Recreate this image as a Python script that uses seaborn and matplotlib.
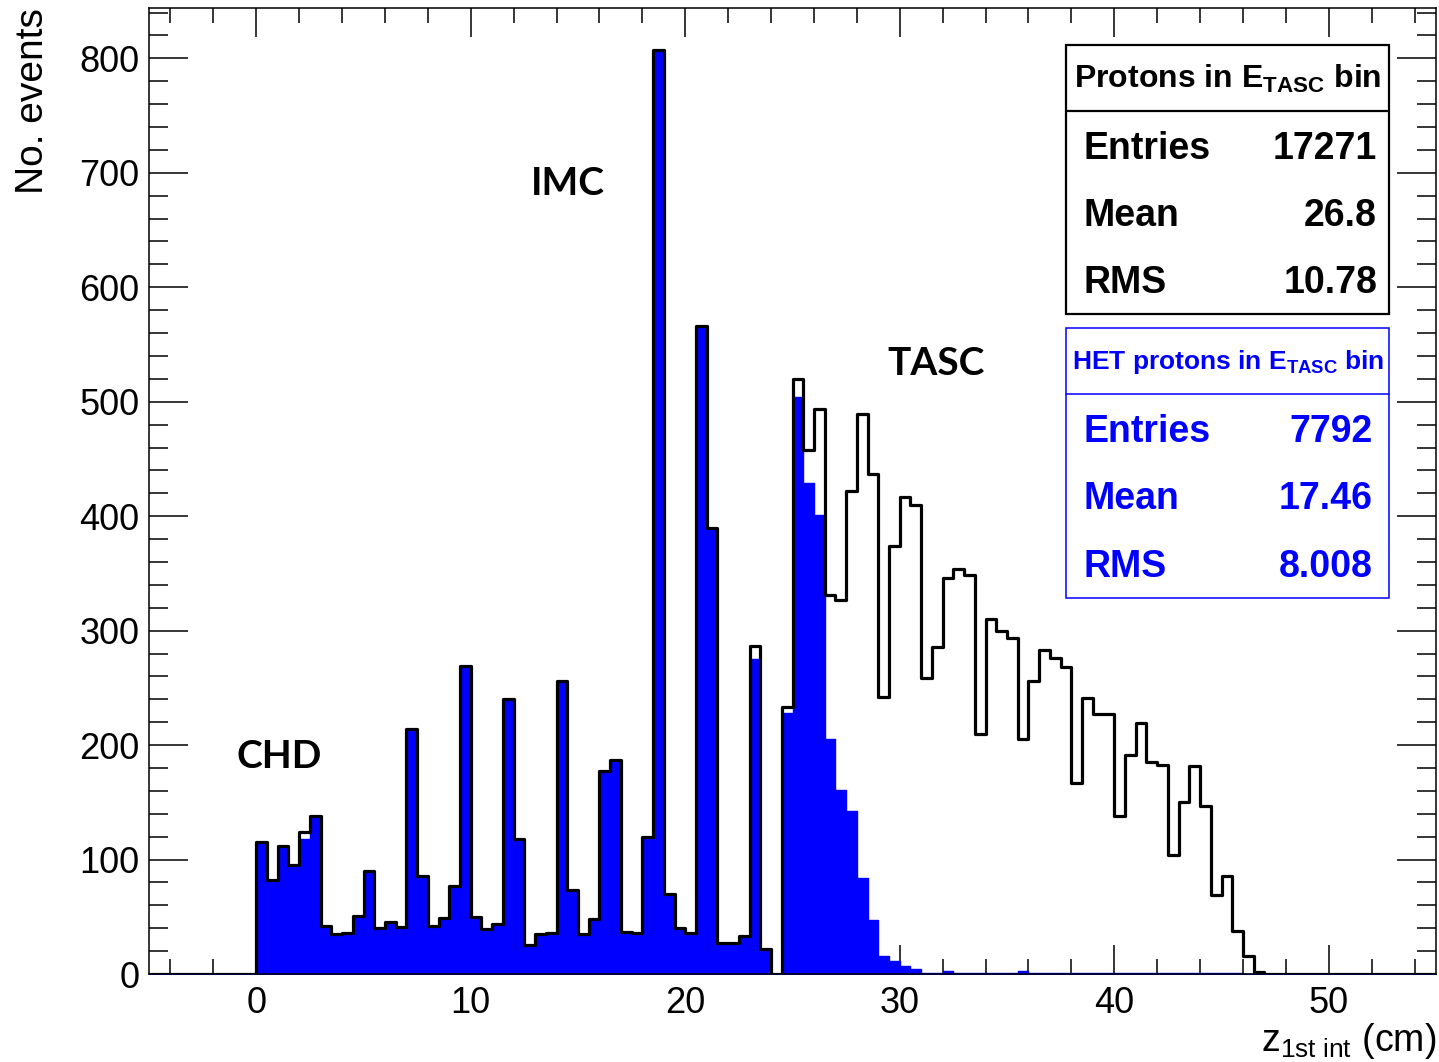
import numpy as np
import pandas as pd
import matplotlib
matplotlib.use("Agg")
import matplotlib.pyplot as plt
from matplotlib.patches import Rectangle
from matplotlib.lines import Line2D
from matplotlib.ticker import MultipleLocator
import seaborn as sns

# ---------------- data ----------------
bin_width = 0.5
x_range = (-5.0, 55.0)
first_bin_low = 0.0

# all protons in E_TASC bin (black outline), bins starting at 0 cm, 0.5 cm wide
all_protons = [115, 82, 112, 95, 124, 138, 42, 35, 36, 51,
               90, 40, 45, 41, 214, 86, 42, 49, 77, 269,
               50, 39, 44, 240, 118, 25, 35, 36, 256, 73,
               35, 48, 177, 187, 37, 36, 120, 807, 70, 40,
               36, 566, 390, 27, 27, 33, 287, 22, 0, 233,
               520, 458, 494, 331, 327, 422, 489, 437, 242, 374,
               417, 410, 259, 286, 346, 354, 349, 210, 310, 300,
               294, 205, 256, 283, 276, 268, 167, 241, 227, 227,
               138, 191, 219, 185, 183, 104, 150, 182, 147, 69,
               86, 38, 16, 2]

# HET protons in E_TASC bin (blue fill)
het_protons = [115, 82, 112, 95, 118, 138, 42, 35, 36, 51,
               90, 40, 45, 41, 214, 86, 42, 49, 77, 269,
               50, 39, 44, 240, 118, 25, 35, 36, 256, 73,
               35, 48, 177, 187, 37, 36, 120, 807, 70, 40,
               36, 566, 390, 27, 27, 33, 275, 22, 0, 228,
               504, 429, 401, 205, 161, 142, 84, 47, 16, 11,
               7, 4, 1, 1, 3, 1, 1, 1, 1, 1,
               1, 3, 1, 1, 1, 1, 1, 1, 1, 1,
               1, 1, 1, 1, 1, 1, 1, 1, 1, 1,
               1, 1, 0, 0]

stats_all = {"title": "Protons in E", "sub": "TASC", "Entries": "17271", "Mean": "26.8", "RMS": "10.78"}
stats_het = {"title": "HET protons in E", "sub": "TASC", "Entries": "7792", "Mean": "17.46", "RMS": "8.008"}

region_labels = ["CHD", "IMC", "TASC"]
region_label_x = [1.07, 14.55, 31.67]
region_label_y = [190, 691, 533]

# ---------------- figure ----------------
W, H = 1439, 1062
sns.set_theme(style="ticks")
plt.rcParams["font.family"] = ["Liberation Sans", "DejaVu Sans"]
plt.rcParams["mathtext.fontset"] = "custom"
plt.rcParams["mathtext.rm"] = "Liberation Sans"
plt.rcParams["mathtext.bf"] = "Liberation Sans:bold"
plt.rcParams["mathtext.it"] = "Liberation Sans:italic"
plt.rcParams["text.color"] = "black"
plt.rcParams["axes.labelcolor"] = "black"
plt.rcParams["xtick.color"] = "black"
plt.rcParams["ytick.color"] = "black"

fig = plt.figure(figsize=(W / 100, H / 100), dpi=100)
fig.patch.set_facecolor("white")


def fx(px):
    return px / W


def fy(py):
    return 1 - py / H


ax = fig.add_axes([fx(149), fy(974), (1436 - 149) / W, (974 - 8) / H])
ax.set_facecolor("white")

n_bins = len(all_protons)
centers = first_bin_low + bin_width * (np.arange(n_bins) + 0.5)
edges = np.arange(x_range[0], x_range[1] + bin_width / 2, bin_width)

# expand binned counts into per-event z values so seaborn does the binning
z_all = pd.DataFrame({"z": np.repeat(centers, all_protons)})
z_het = pd.DataFrame({"z": np.repeat(centers, het_protons)})

sns.histplot(data=z_het, x="z", bins=edges, element="step",
             fill=True, color="#0000ff", alpha=1.0, linewidth=1.0,
             edgecolor="#0000ff", ax=ax)
sns.histplot(data=z_all, x="z", bins=edges, element="step",
             fill=False, color="black", linewidth=2.3, ax=ax)

ax.set_xlim(*x_range)
ax.set_ylim(0, 844)

ax.xaxis.set_major_locator(MultipleLocator(10))
ax.xaxis.set_minor_locator(MultipleLocator(2))
ax.yaxis.set_major_locator(MultipleLocator(100))
ax.yaxis.set_minor_locator(MultipleLocator(20))
ax.tick_params(axis="both", which="both", direction="in", top=True, right=True,
               width=1.1, color="black", labelsize=26, labelcolor="black")
ax.tick_params(axis="x", which="major", length=21, pad=8.5)
ax.tick_params(axis="x", which="minor", length=10.5)
ax.tick_params(axis="y", which="major", length=28, pad=7)
ax.tick_params(axis="y", which="minor", length=14)
for s in ax.spines.values():
    s.set_linewidth(1.1)
    s.set_color("black")

ax.set_xlabel(r"$\mathrm{z}_{\mathrm{1st\ int}}$ (cm)", fontsize=27, loc="right", color="black")
ax.xaxis.set_label_coords(1.0, -0.049)
ax.set_ylabel("No. events", fontsize=28, loc="top", color="black")
ax.yaxis.set_label_coords(-0.076, 1.0)

for lab, lx, ly in zip(region_labels, region_label_x, region_label_y):
    ax.text(lx, ly, lab, fontsize=28, fontweight="bold", family=["Lato", "DejaVu Sans"],
            ha="center", va="center", color="black")


# ---------------- stat boxes ----------------
def stat_box(st, top, bottom, divider, rows_y, color, title_size, value_x, border_lw):
    fig.add_artist(Rectangle((fx(1066), fy(bottom)), (1389 - 1066) / W, (bottom - top) / H,
                             transform=fig.transFigure, fill=True, facecolor="white",
                             edgecolor=color, lw=border_lw, zorder=5))
    fig.add_artist(Line2D([fx(1066), fx(1389)], [fy(divider), fy(divider)],
                          transform=fig.transFigure, color=color, lw=border_lw, zorder=6))
    title = st["title"][:-1] + r"$\mathbf{E}_{\mathbf{" + st["sub"] + r"}}$" + " bin"
    fig.text(fx(1228), fy((top + divider) / 2 + 1), title, fontsize=title_size,
             fontweight="bold", color=color, ha="center", va="center", zorder=7)
    for key, ry in zip(["Entries", "Mean", "RMS"], rows_y):
        fig.text(fx(1083), fy(ry), key, fontsize=27, fontweight="bold", color=color,
                 ha="left", va="center", zorder=7)
        fig.text(fx(value_x), fy(ry), st[key], fontsize=27, fontweight="bold", color=color,
                 ha="right", va="center", zorder=7)


stat_box(stats_all, 45, 314, 111, [149, 216, 283], "black", 23, 1377, 1.6)
stat_box(stats_het, 328, 598, 394, [432, 499, 567], "#0000ff", 19, 1373, 1.1)

fig.savefig("out.png", dpi=100, facecolor="white")
